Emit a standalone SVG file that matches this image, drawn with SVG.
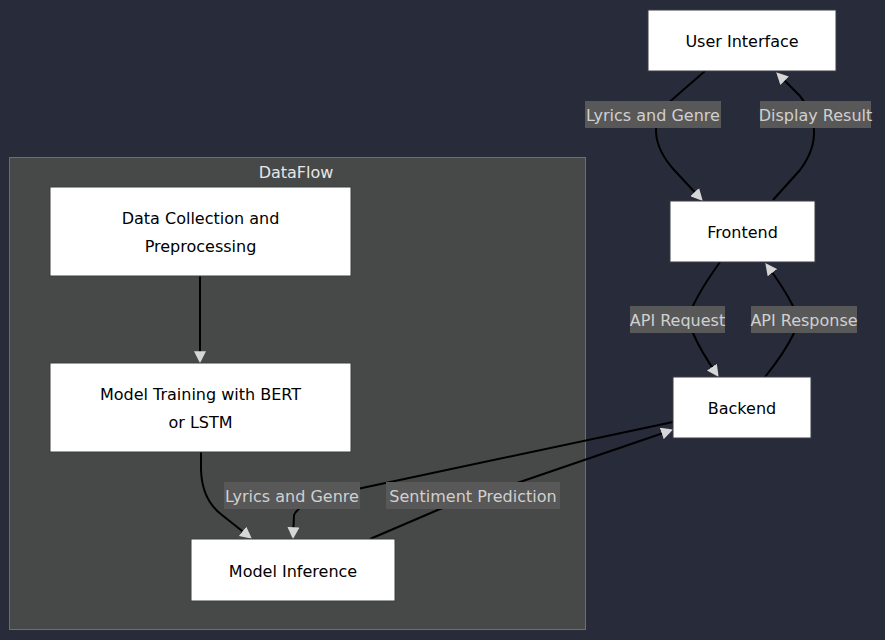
<svg xmlns="http://www.w3.org/2000/svg" width="885" height="640" viewBox="0 0 885 640">
<style>
.bg{fill:#282c3a}
.cluster rect{fill:#474848;stroke:#6b6e75;stroke-width:1}
.cluster text{fill:#e6e6e6;font-family:"DejaVu Sans",sans-serif;font-size:16px;text-anchor:middle}
.node rect{fill:#ffffff;stroke:#3a3d45;stroke-width:1}
.node text{fill:#000000;font-family:"DejaVu Sans",sans-serif;font-size:16px;text-anchor:middle}
.edge{fill:none;stroke:#000000;stroke-width:2;marker-end:url(#arrow)}
.elabel rect{fill:#585858}
.elabel text{fill:#d0d0d0;font-family:"DejaVu Sans",sans-serif;font-size:16px;text-anchor:middle}
</style>
<defs>
<marker id="arrow" viewBox="0 0 10 10" refX="9" refY="5" markerWidth="6" markerHeight="6" markerUnits="strokeWidth" orient="auto">
<path d="M0,0 L10,5 L0,10 z" fill="#d6d6d6"/>
</marker>
</defs>
<rect class="bg" x="0" y="0" width="885" height="640"/>
<g id="cluster-DataFlow" class="cluster">
<rect x="9.5" y="157.5" width="576" height="472"/>
<text x="296" y="178">DataFlow</text>
</g>
<g id="connectors">
<path class="edge" d="M705,71 L674,98 Q655,114 656,132 Q657,152 676,172 L702,200"/>
<path class="edge" d="M773,200 L800,170 Q815,150 814,130 Q813,112 800,96 L777,73"/>
<path class="edge" d="M720,262 Q700,290 692,308 Q690,320 693,333 Q700,350 718,376"/>
<path class="edge" d="M765,377 Q785,352 794,333 Q797,320 793,306 Q784,288 766,264"/>
<path class="edge" d="M200,276 L200,362"/>
<path class="edge" d="M201,452 L201,470 Q202,500 222,515 L251,538"/>
<path class="edge" d="M673,422 L362,488 Q300,500 294,515 L293,538"/>
<path class="edge" d="M370,539 L440,509 L520,482 L672,430"/>
</g>
<g class="elabel">
<rect x="585" y="101" width="136" height="27"/>
<text x="653" y="120.5">Lyrics and Genre</text>
<rect x="760" y="101" width="111" height="27"/>
<text x="815.5" y="120.5">Display Result</text>
<rect x="630" y="306" width="95" height="27"/>
<text x="677.5" y="325.5">API Request</text>
<rect x="751" y="306" width="106" height="27"/>
<text x="804" y="325.5">API Response</text>
<rect x="224" y="482" width="136" height="27"/>
<text x="292" y="501.5">Lyrics and Genre</text>
<rect x="386" y="482" width="174" height="27"/>
<text x="473" y="501.5">Sentiment Prediction</text>
</g>
<g id="node-ui" class="node">
<rect x="648" y="10" width="188" height="61"/>
<text x="742" y="46.5">User Interface</text>
</g>
<g id="node-frontend" class="node">
<rect x="670" y="201" width="145" height="61"/>
<text x="742.5" y="237.5">Frontend</text>
</g>
<g id="node-backend" class="node">
<rect x="673" y="377" width="138" height="61"/>
<text x="742" y="413.5">Backend</text>
</g>
<g id="node-data" class="node">
<rect x="50" y="187" width="301" height="89"/>
<text x="200.5" y="223.5">Data Collection and</text>
<text x="200.5" y="251.5">Preprocessing</text>
</g>
<g id="node-training" class="node">
<rect x="50" y="363" width="301" height="89"/>
<text x="200.5" y="399.5">Model Training with BERT</text>
<text x="200.5" y="427.5">or LSTM</text>
</g>
<g id="node-inference" class="node">
<rect x="191" y="539" width="204" height="62"/>
<text x="293" y="576.5">Model Inference</text>
</g>
</svg>
